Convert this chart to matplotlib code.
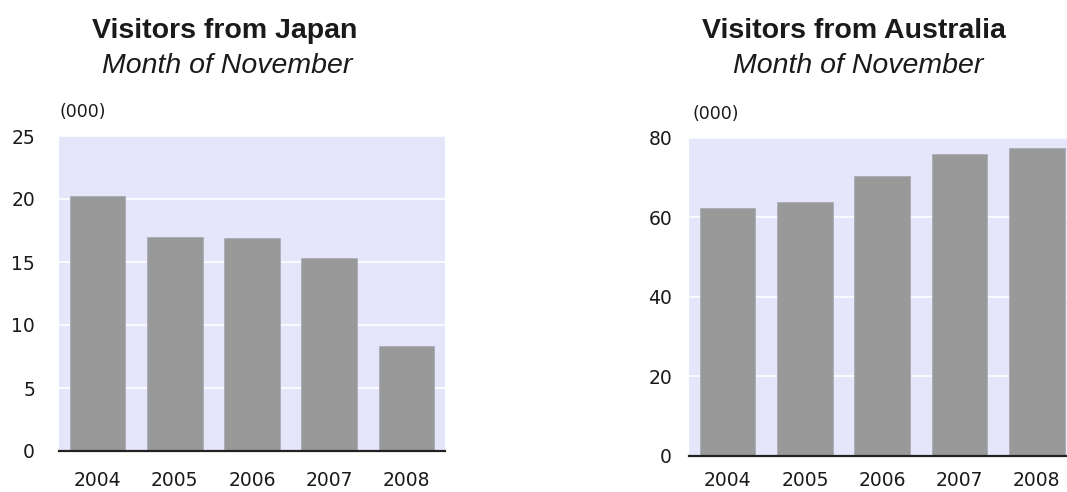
import matplotlib
matplotlib.use("Agg")
import matplotlib.pyplot as plt
import numpy as np

# ---- data ----
years = ["2004", "2005", "2006", "2007", "2008"]
japan = [20.2, 17.0, 16.9, 15.3, 8.3]
australia = [62.2, 63.8, 70.3, 75.8, 77.3]
japan_ticks = [0, 5, 10, 15, 20, 25]
australia_ticks = [0, 20, 40, 60, 80]
titles = ["Visitors from Japan", "Visitors from Australia"]
subtitle = "Month of November"
unit_label = "(000)"

W, H = 1067, 492
fig = plt.figure(figsize=(W / 100, H / 100), dpi=100)

BG = "#E6E6FA"
BAR = "#999999"
TXT = "#1a1a1a"


def make_panel(rect, values, ticks, ypad, xpad, unit_dx):
    ax = fig.add_axes(rect)
    ax.set_facecolor(BG)
    x = np.arange(len(years))
    ax.bar(x, values, width=0.72, color=BAR, edgecolor="#aeaebb",
           linewidth=0.7, zorder=3)
    ax.set_xlim(-0.5, len(years) - 0.5)
    ax.set_ylim(ticks[0], ticks[-1])
    ax.set_yticks(ticks)
    ax.set_xticks(x)
    ax.set_xticklabels(years)
    ax.grid(axis="y", color="white", linewidth=1.2, zorder=1)
    ax.set_axisbelow(True)
    for s in ["top", "left", "right"]:
        ax.spines[s].set_visible(False)
    ax.spines["bottom"].set_color("#222222")
    ax.spines["bottom"].set_linewidth(1.6)
    ax.spines["bottom"].set_zorder(4)
    ax.tick_params(axis="both", length=0, labelsize=13.5, labelcolor=TXT,
                   labelfontfamily="DejaVu Sans")
    ax.tick_params(axis="x", pad=xpad)
    ax.tick_params(axis="y", pad=ypad)
    ax.annotate(unit_label, xy=(0, 1), xycoords="axes fraction",
                xytext=(unit_dx, 17), textcoords="offset points",
                ha="left", va="center", fontsize=12.5, color=TXT,
                family="DejaVu Sans")
    return ax


ax1 = make_panel([59 / W, 41 / H, 386 / W, 315 / H], japan, japan_ticks,
                 17.3, 14.5, 0.7)
ax2 = make_panel([689 / W, 36.3 / H, 386.5 / W, 318 / H], australia,
                 australia_ticks, 12.2, 11.0, 2.2)

# titles
for cx_t, cx_s, t in [(225, 227, titles[0]), (854, 858, titles[1])]:
    fig.text(cx_t / W, 1 - 37.7 / H, t, ha="center", va="baseline",
             fontsize=20.5, fontweight="bold", family="Liberation Sans",
             color=TXT)
    fig.text(cx_s / W, 1 - 73 / H, subtitle, ha="center", va="baseline",
             fontsize=20.5, fontstyle="italic", family="Liberation Sans",
             color=TXT)

fig.savefig("out.png", dpi=100)
